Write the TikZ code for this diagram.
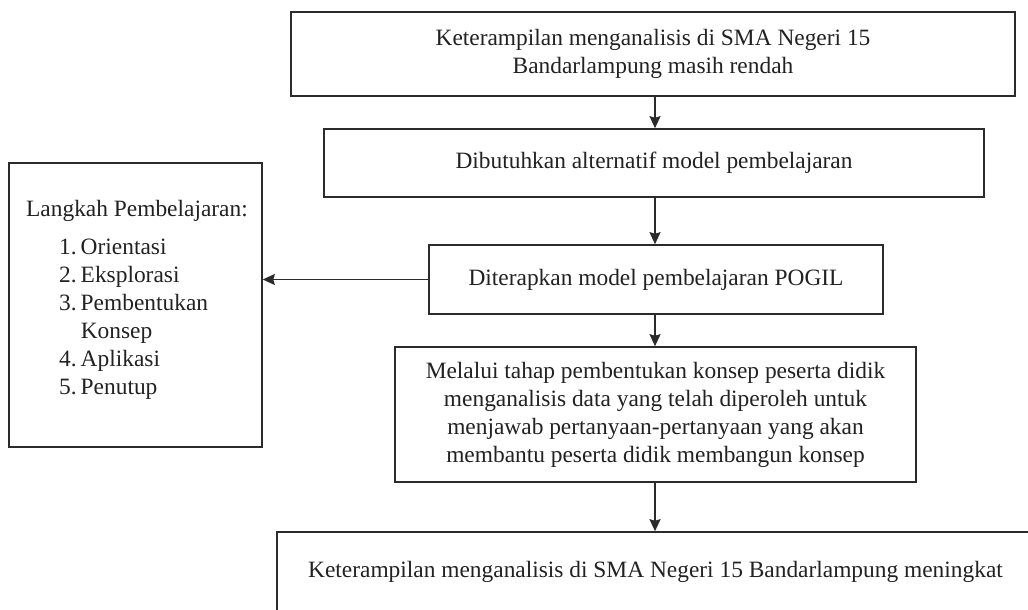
\documentclass[tikz,border=0pt]{standalone}
\usepackage{fontspec}
\setmainfont{Liberation Serif}
\usetikzlibrary{arrows.meta}
\definecolor{linec}{HTML}{2B2B2B}
\definecolor{textc}{HTML}{222222}
\begin{document}
\begin{tikzpicture}[x=1pt,y=-1pt,
  box/.style={draw=linec, line width=1.6pt, align=center, inner sep=0pt,
    font=\fontsize{23.4}{28}\selectfont, text=textc},
  arr/.style={draw=linec, line width=1.6pt, -{Stealth[length=12pt,width=11pt,inset=1.5pt]}},
  txt/.style={inner sep=0pt, font=\fontsize{23.4}{28}\selectfont, text=textc}]
\useasboundingbox (0,0) rectangle (1028,610);
\clip (0,0) rectangle (1028,610);
\fill[white] (0,0) rectangle (1028,610);

\node[box, minimum width=724pt, minimum height=84pt] (b1) at (653,54)
  {Keterampilan menganalisis di SMA Negeri 15\\Bandarlampung masih rendah};
\node[box, minimum width=660pt, minimum height=68pt] (b2) at (654,163)
  {Dibutuhkan alternatif model pembelajaran};
\node[box, minimum width=454pt, minimum height=69pt] (b3) at (656,279.5)
  {Diterapkan model pembelajaran POGIL};
\node[box, minimum width=521pt, minimum height=135pt] (b4) at (655.5,414.5)
  {Melalui tahap pembentukan konsep peserta didik\\menganalisis data yang telah diperoleh untuk\\menjawab pertanyaan-pertanyaan yang akan\\membantu peserta didik membangun konsep};
\node[box, minimum width=757pt, minimum height=80pt] (b5) at (655.5,572)
  {Keterampilan menganalisis di SMA Negeri 15 Bandarlampung meningkat};

\node[box, minimum width=253pt, minimum height=284pt] (lb) at (135.5,305) {};
\node[txt, anchor=base west] (lh) at (26,216) {Langkah Pembelajaran:};
\node[txt, anchor=base west] (ll) at (59,254)
  {\begin{tabular}[t]{@{}l@{\hspace{4pt}}l@{}}
   1. & Orientasi\\
   2. & Eksplorasi\\
   3. & Pembentukan\\
      & Konsep\\
   4. & Aplikasi\\
   5. & Penutup
   \end{tabular}};

\coordinate (ax) at (655,0);
\draw[arr] (b1.south -| ax) -- (b2.north -| ax);
\draw[arr] (b2.south -| ax) -- (b3.north -| ax);
\draw[arr] (b3.south -| ax) -- (b4.north -| ax);
\draw[arr] (b4.south -| ax) -- (b5.north -| ax);
\draw[arr] (b3.west) -- (b3.west -| lb.east);
\end{tikzpicture}
\end{document}
